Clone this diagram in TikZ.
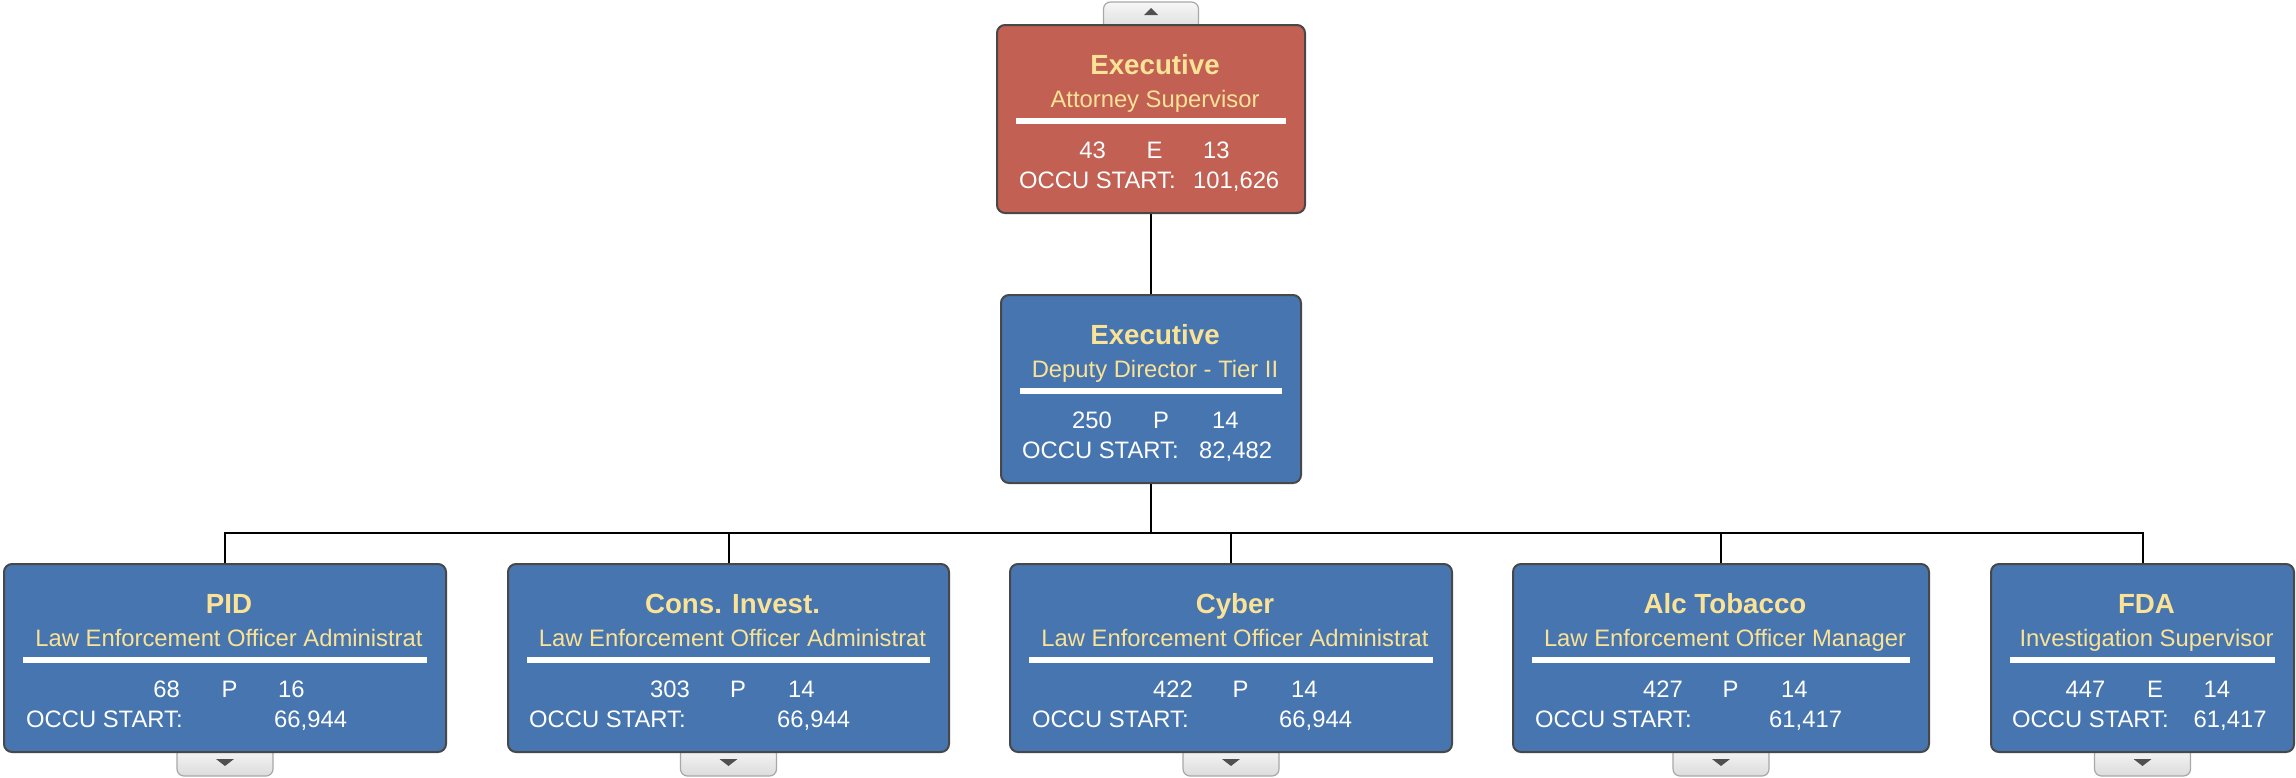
\documentclass[tikz,border=0pt]{standalone}
\usepackage{fontspec}
\setmainfont{Liberation Sans}
\usetikzlibrary{calc,backgrounds}
\definecolor{redfill}{RGB}{193,96,83}
\definecolor{bluefill}{RGB}{70,117,175}
\definecolor{boxline}{RGB}{72,72,72}
\definecolor{ttlyel}{RGB}{250,226,150}
\definecolor{tabline}{RGB}{168,168,168}
\definecolor{tabtop}{RGB}{247,247,247}
\definecolor{tabbot}{RGB}{220,220,220}
\definecolor{tricol}{RGB}{80,80,80}
\begin{document}
\begin{tikzpicture}[x=1pt,y=-1pt,
  orgbox/.style={rectangle, draw=boxline, line width=2pt, rounded corners=8pt, minimum height=188pt, inner sep=0pt},
  redbox/.style={orgbox, fill=redfill},
  bluebox/.style={orgbox, fill=bluefill},
  ttl/.style={anchor=base, inner sep=0pt, text=ttlyel, font=\fontsize{27.7}{30}\selectfont\bfseries},
  subt/.style={anchor=base, inner sep=0pt, text=ttlyel, font=\fontsize{23.8}{26}\selectfont},
  valtxt/.style={inner sep=0pt, text=white, font=\fontsize{23.8}{26}\selectfont},
  vr/.style={valtxt, anchor=base east},
  vc/.style={valtxt, anchor=base},
  vl/.style={valtxt, anchor=base west},
  sepline/.style={draw=white, line width=6pt},
  conn/.style={draw=black, line width=2pt},
  tabshape/.style={draw=tabline, line width=1.2pt, top color=tabtop, bottom color=tabbot, rounded corners=7pt},
  tabtri/.style={fill=tricol, draw=none}
]
\useasboundingbox (0,0) rectangle (2296,777);

% boxes
\node[redbox, minimum width=308pt] (top) at (1151,119) {};
\node[bluebox, minimum width=300pt] (dep) at (1151,389) {};
\node[bluebox, minimum width=442pt] (pid) at (225,658) {};
\node[bluebox, minimum width=441pt] (cons) at (728.5,658) {};
\node[bluebox, minimum width=442pt] (cyber) at (1231,658) {};
\node[bluebox, minimum width=416pt] (alc) at (1721,658) {};
\node[bluebox, minimum width=303pt] (fda) at (2142.5,658) {};

% tabs (behind boxes)
\begin{scope}[on background layer]
  \path[tabshape] ($(top.north)+(-47.5,6)$) -- ($(top.north)+(-47.5,-22)$) -- ($(top.north)+(47.5,-22)$) -- ($(top.north)+(47.5,6)$) -- cycle;
  \foreach \b in {pid,cons,cyber,alc,fda}{
    \path[tabshape] ($(\b.south)+(-48,-6)$) -- ($(\b.south)+(-48,23)$) -- ($(\b.south)+(48,23)$) -- ($(\b.south)+(48,-6)$) -- cycle;
  }
\end{scope}
\fill[tabtri] ($(top.north)+(-7,-9)$) -- ($(top.north)+(7,-9)$) -- ($(top.north)+(0,-16)$) -- cycle;
\foreach \b in {pid,cons,cyber,alc,fda}{
  \fill[tabtri] ($(\b.south)+(-9,6)$) -- ($(\b.south)+(9,6)$) -- ($(\b.south)+(0,13)$) -- cycle;
}

% separators
\foreach \b in {top,dep,pid,cons,cyber,alc,fda}{
  \draw[sepline] ($(\b.north west)+(20,97)$) -- ($(\b.north east)+(-20,97)$);
}

% connectors
\coordinate (busc) at (1151,533);
\draw[conn] (top.south) -- (dep.north);
\draw[conn] (dep.south) -- (busc);
\draw[conn] (pid.north) |- (busc) -| (fda.north);
\draw[conn] (cons.north) -- (cons.north |- busc);
\draw[conn] (cyber.north) -- (cyber.north |- busc);
\draw[conn] (alc.north) -- (alc.north |- busc);

% texts: top
\node[ttl] (top-t) at ($(top.north)+(4,50)$) {Executive};
\node[subt] (top-s) at ($(top.north)+(4,83)$) {Attorney Supervisor};
\node[vr] (top-a) at ($(top.north)+(-45,134)$) {43};
\node[vc] (top-b) at ($(top.north)+(3.5,134)$) {E};
\node[vl] (top-c) at ($(top.north)+(52,134)$) {13};
\node[vl] (top-d) at ($(top.north)+(-132,164)$) {OCCU START:};
\node[vl] (top-e) at ($(top.north)+(42,164)$) {101,626};

% dep
\node[ttl] (dep-t) at ($(dep.north)+(4,50)$) {Executive};
\node[subt] (dep-s) at ($(dep.north)+(4,83)$) {Deputy Director - Tier II};
\node[vr] (dep-a) at ($(dep.north)+(-39,134)$) {250};
\node[vc] (dep-b) at ($(dep.north)+(10,134)$) {P};
\node[vl] (dep-c) at ($(dep.north)+(61,134)$) {14};
\node[vl] (dep-d) at ($(dep.north)+(-129,164)$) {OCCU START:};
\node[vl] (dep-e) at ($(dep.north)+(48,164)$) {82,482};

% pid
\node[ttl] (pid-t) at ($(pid.north)+(4,50)$) {PID};
\node[subt] (pid-s) at ($(pid.north)+(4,83)$) {Law Enforcement Officer Administrat};
\node[vr] (pid-a) at ($(pid.north)+(-45,134)$) {68};
\node[vc] (pid-b) at ($(pid.north)+(4.5,134)$) {P};
\node[vl] (pid-c) at ($(pid.north)+(53,134)$) {16};
\node[vl] (pid-d) at ($(pid.north)+(-199,164)$) {OCCU START:};
\node[vl] (pid-e) at ($(pid.north)+(49,164)$) {66,944};

% cons
\node[ttl] (cons-t) at ($(cons.north)+(4,50)$) {Cons. Invest.};
\node[subt] (cons-s) at ($(cons.north)+(4,83)$) {Law Enforcement Officer Administrat};
\node[vr] (cons-a) at ($(cons.north)+(-38.5,134)$) {303};
\node[vc] (cons-b) at ($(cons.north)+(9.5,134)$) {P};
\node[vl] (cons-c) at ($(cons.north)+(59.5,134)$) {14};
\node[vl] (cons-d) at ($(cons.north)+(-199.5,164)$) {OCCU START:};
\node[vl] (cons-e) at ($(cons.north)+(48.5,164)$) {66,944};

% cyber
\node[ttl] (cyber-t) at ($(cyber.north)+(4,50)$) {Cyber};
\node[subt] (cyber-s) at ($(cyber.north)+(4,83)$) {Law Enforcement Officer Administrat};
\node[vr] (cyber-a) at ($(cyber.north)+(-38,134)$) {422};
\node[vc] (cyber-b) at ($(cyber.north)+(9.5,134)$) {P};
\node[vl] (cyber-c) at ($(cyber.north)+(60,134)$) {14};
\node[vl] (cyber-d) at ($(cyber.north)+(-199,164)$) {OCCU START:};
\node[vl] (cyber-e) at ($(cyber.north)+(48,164)$) {66,944};

% alc
\node[ttl] (alc-t) at ($(alc.north)+(4,50)$) {Alc Tobacco};
\node[subt] (alc-s) at ($(alc.north)+(4,83)$) {Law Enforcement Officer Manager};
\node[vr] (alc-a) at ($(alc.north)+(-38,134)$) {427};
\node[vc] (alc-b) at ($(alc.north)+(9.5,134)$) {P};
\node[vl] (alc-c) at ($(alc.north)+(60,134)$) {14};
\node[vl] (alc-d) at ($(alc.north)+(-186,164)$) {OCCU START:};
\node[vl] (alc-e) at ($(alc.north)+(48,164)$) {61,417};

% fda
\node[ttl] (fda-t) at ($(fda.north)+(4,50)$) {FDA};
\node[subt] (fda-s) at ($(fda.north)+(4,83)$) {Investigation Supervisor};
\node[vr] (fda-a) at ($(fda.north)+(-37,134)$) {447};
\node[vc] (fda-b) at ($(fda.north)+(12.5,134)$) {E};
\node[vl] (fda-c) at ($(fda.north)+(61,134)$) {14};
\node[vl] (fda-d) at ($(fda.north)+(-130.5,164)$) {OCCU START:};
\node[vl] (fda-e) at ($(fda.north)+(51,164)$) {61,417};
\end{tikzpicture}
\end{document}
